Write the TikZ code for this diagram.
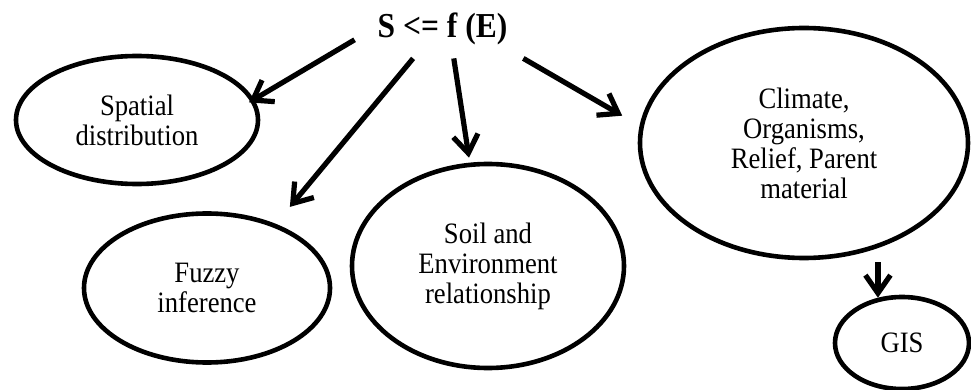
\documentclass[tikz,border=0pt]{standalone}
\usepackage{fontspec}
\setmainfont{Liberation Serif}[FakeStretch=0.9]
\usetikzlibrary{shapes.geometric,arrows.meta}

\begin{document}
\begin{tikzpicture}[x=0.5pt,y=-0.5pt,
		blob/.style={ellipse,draw,line width=2.3pt,inner sep=0pt,align=center,font=\fontsize{14.8}{15}\selectfont},
		arr/.style={line width=2.6pt,-{Straight Barb[length=9pt,width=12.5pt]}}]
		\useasboundingbox (0,0) rectangle (971,390);
		\node[fill=white,minimum width=87.5pt,minimum height=29pt,inner sep=0pt,font=\fontsize{17.5}{18}\selectfont\bfseries] (law) at (442.5,29) {S <= f (E)};
		\node[blob,minimum width=121pt,minimum height=64pt] (spatial) at (137,120) {Spatial\\distribution};
		\node[blob,minimum width=123pt,minimum height=74.5pt] (fuzzy) at (207,288) {Fuzzy\\inference};
		\node[blob,minimum width=136pt,minimum height=102pt] (soil) at (488,266) {Soil and\\Environment\\relationship};
		\node[blob,minimum width=164pt,minimum height=115pt] (climate) at (804,143) {Climate,\\Organisms,\\Relief, Parent\\material};
		\node[blob,minimum width=67pt,minimum height=46pt] (gis) at (902,343) {GIS};
		\draw[arr,shorten >=-3pt] (law.187) -- (spatial.10);
		\draw[arr,shorten >=11pt] (law.225) -- (fuzzy.43);
		\draw[arr,shorten >=2.5pt] (law.291) -- (soil.100);
		\draw[arr,shorten >=10pt] (law.340) -- (climate.174);
		\draw[arr,shorten <=1pt] (climate.south -| gis.118) -- (gis.118);
	\end{tikzpicture}
\end{document}
